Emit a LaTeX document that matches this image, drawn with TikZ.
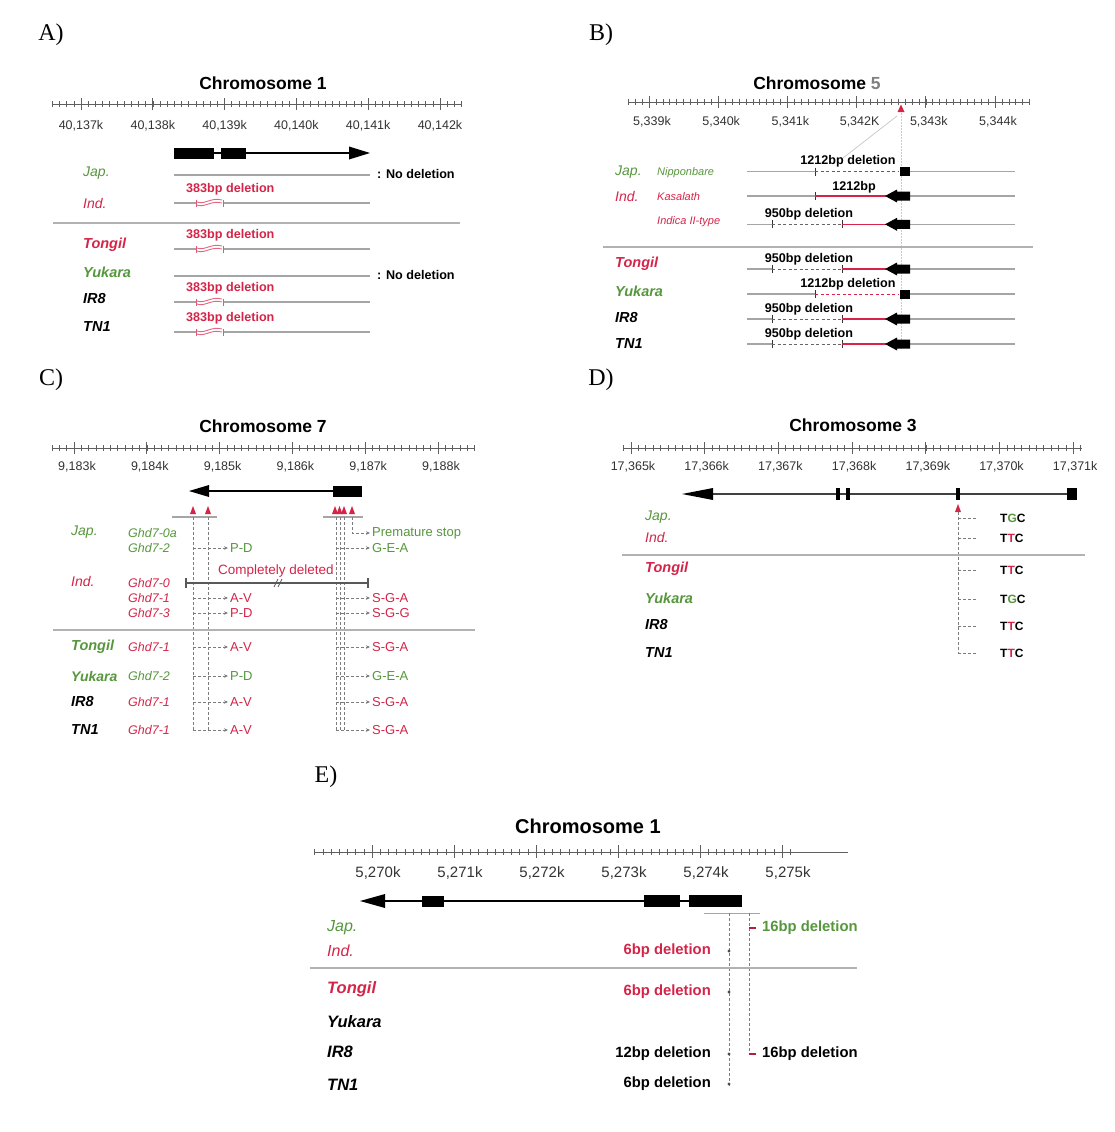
\documentclass[tikz,border=0pt]{standalone}
\usepackage{fontspec}
\setmainfont{Liberation Sans}
\newfontfamily\panelfont{Liberation Serif}
\usepackage{xcolor}
\usepackage{tikz}
\usetikzlibrary{arrows.meta}

\definecolor{jgreen}{RGB}{86,150,60}
\definecolor{ired}{RGB}{212,36,72}
\definecolor{rulegray}{RGB}{95,95,95}
\definecolor{rowgray}{RGB}{165,165,165}
\definecolor{sepgray}{RGB}{178,178,178}
\newcommand{\fsz}[1]{\fontsize{#1}{#1}\selectfont}

\begin{document}
\begin{tikzpicture}[x=1pt, y=-1pt,
    panel/.style={font=\panelfont\fsz{24}, inner sep=0pt},
    title/.style={font=\bfseries\fsz{17.5}, inner sep=0pt},
    ticklab/.style={font=\fsz{12.5}, text=black!80, inner sep=0pt},
    grp/.style={font=\itshape\fsz{14}, anchor=west, inner sep=0pt},
    cult/.style={font=\bfseries\itshape\fsz{14.5}, anchor=west, inner sep=0pt},
    strain/.style={font=\itshape\fsz{12.5}, anchor=west, inner sep=0pt},
    del/.style={font=\bfseries\fsz{12.6}, inner sep=0pt},
    note/.style={font=\fsz{13}, anchor=west, inner sep=0pt},
    rowline/.style={rowgray, line width=1.3},
    sepline/.style={sepgray, line width=2},
    exon/.style={fill=black},
    intron/.style={line width=1.4},
    guide/.style={rowgray!75!black, line width=0.8, dash pattern=on 3pt off 2pt},
    conn/.style={guide, -{Stealth[length=4pt,width=3.5pt]}, shorten >=2pt},
    snp/.style={fill=ired},
    major/.style={rulegray, line width=0.9},
    minor/.style={rulegray, line width=0.6}]

  \useasboundingbox (0,0) rectangle (1115,1132);

  % ================= A) Chromosome 1 =================
  \node[panel] (pA) at (51,35) {A)};
  \node[title] (tA) at (263,83) {Chromosome 1};
  \draw[major] (52,104) -- (461,104);
  \foreach \i in {-4,...,53} \draw[minor] ({81+\i*7.18},101) -- ++(0,6);
  \foreach \m [count=\j from 0] in {137,...,142} {
    \draw[major] ({81+\j*71.8},98) -- ++(0,12);
    \node[ticklab] (a-k\j) at ({81+\j*71.8},126) {40,\m k};
  }
  % gene
  \draw[intron] (214,153) -- (350,153);
  \fill[exon] (174,147.5) rectangle (214,158.5);
  \fill[exon] (221,147.5) rectangle (246,158.5);
  \fill (349,146.5) -- (370,153) -- (349,159.5) -- cycle;
  % rows
  \node[grp, text=jgreen] (a-jap) at (83,173) {Jap.};
  \node[grp, text=ired] (a-ind) at (83,203) {Ind.};
  \node[cult, text=ired] (a-ton) at (83,245) {Tongil};
  \node[cult, text=jgreen] (a-yuk) at (83,272) {Yukara};
  \node[cult] (a-ir8) at (83,299) {IR8};
  \node[cult] (a-tn1) at (83,327) {TN1};
  \draw[sepline] (53,223) -- (460,223);
  \foreach \y [count=\j] in {175,276} {
    \draw[rowline] (174,\y) -- (370,\y);
    \node[del, anchor=west] (a-nd\j) at (377,{\y-1}) {: No deletion};
  }
  \foreach \y [count=\j] in {203,249,302,332} {
    \draw[rowline] (174,\y) -- (196,\y) (223,\y) -- (370,\y);
    \draw[ired!75, line width=1] (196,{\y-3.5}) -- ++(0,7) (223,{\y-3.5}) -- ++(0,7);
    \draw[ired!70, line width=0.9] (197,{\y+2}) .. controls (205,{\y+5}) and (211,{\y-3}) .. (222,{\y})
      (197,{\y-1}) .. controls (205,{\y+2}) and (211,{\y-6}) .. (222,{\y-3});
    \node[del, text=ired, anchor=west] (a-d\j) at (186,{\y-14}) {383bp deletion};
  }

  % ================= B) Chromosome 5 =================
  \node[panel] (pB) at (601,35) {B)};
  \node[title] (tB) at (817,83) {Chromosome \textcolor{black!50}{5}};
  \draw[major] (628,102) -- (1030,102);
  \foreach \i in {-3,...,55} \draw[minor] ({649+\i*6.92},99) -- ++(0,6);
  \foreach \t [count=\j from 0] in {339k,340k,341k,342K,343k,344k} {
    \draw[major] ({649+\j*69.2},96) -- ++(0,12);
    \node[ticklab] (b-k\j) at ({652+\j*69.2},122) {5,\t};
  }
  % position marker
  \draw[gray!40, line width=0.8, dash pattern=on 2pt off 1pt] (901,113) -- (901,350);
  \draw[gray!45, line width=0.7] (897,116) -- (843,158);
  \fill[snp] (897.5,112) -- (901,104.5) -- (904.5,112) -- cycle;
  % rows
  \node[grp, text=jgreen] (b-jap) at (615,172) {Jap.};
  \node[strain, text=jgreen, font=\itshape\fsz{11}] (b-nip) at (657,173) {Nipponbare};
  \node[grp, text=ired] (b-ind) at (615,196) {Ind.};
  \node[strain, text=ired, font=\itshape\fsz{11}] (b-kas) at (657,197) {Kasalath};
  \node[strain, text=ired, font=\itshape\fsz{11}] (b-ii) at (657,222) {Indica II-type};
  \node[cult, text=ired] (b-ton) at (615,264) {Tongil};
  \node[cult, text=jgreen] (b-yuk) at (615,291) {Yukara};
  \node[cult] (b-ir8) at (615,318) {IR8};
  \node[cult] (b-tn1) at (615,344) {TN1};
  \draw[sepline] (603,247) -- (1033,247);
  % 1212bp deletion
  \foreach \y [count=\j] in {171.7,294} {
    \draw[rowline] (747,\y) -- (815,\y) (910,\y) -- (1015,\y);
    \draw[black!80, line width=0.9] (815,{\y-4}) -- ++(0,8);
    \draw[ired, line width=1, dash pattern=on 3pt off 2.5pt] (815,\y) -- (898,\y);
    \fill[exon] (900,{\y-4.5}) rectangle (910,{\y+4.5});
    \node[del] (b-n\j) at (848,{\y-10}) {1212bp deletion};
  }
  % 1212bp
  \draw[rowline] (747,196) -- (815,196) (910,196) -- (1015,196);
  \draw[black!80, line width=0.9] (815,192) -- ++(0,8);
  \draw[ired, line width=1.3] (815,196) -- (886,196);
  \fill (885,196) -- (897,189.5) -- (897,191.5) -- (910,191.5) -- (910,200.5) -- (897,200.5) -- (897,202.5) -- cycle;
  \node[del] (b-k) at (854,187) {1212bp};
  % 950bp deletion
  \foreach \y [count=\j] in {224.3,269,319,344} {
    \draw[rowline] (747,\y) -- (772,\y) (910,\y) -- (1015,\y);
    \draw[black!80, line width=0.9] (772,{\y-4}) -- ++(0,8) (842,{\y-4}) -- ++(0,8);
    \draw[black!60, line width=0.8, dash pattern=on 3pt off 2.5pt] (772,\y) -- (842,\y);
    \draw[ired, line width=1.3] (842,\y) -- (886,\y);
    \fill (885,\y) -- (897,{\y-6.5}) -- (897,{\y-4.5}) -- (910,{\y-4.5}) -- (910,{\y+4.5})
      -- (897,{\y+4.5}) -- (897,{\y+6.5}) -- cycle;
    \node[del] (b-h\j) at (809,{\y-10}) {950bp deletion};
  }

  % ================= C) Chromosome 7 =================
  \node[panel] (pC) at (51,380) {C)};
  \node[title] (tC) at (263,426) {Chromosome 7};
  \draw[major] (52,448) -- (475,448);
  \foreach \i in {-3,...,55} \draw[minor] ({74+\i*7.28},445) -- ++(0,6);
  \foreach \m [count=\j from 0] in {183,...,188} {
    \draw[major] ({74+\j*72.8},442) -- ++(0,12);
    \node[ticklab] (c-k\j) at ({77+\j*72.8},467) {9,\m k};
  }
  % gene
  \draw[intron] (209,491) -- (333,491);
  \fill (189,491) -- (209,485) -- (209,497) -- cycle;
  \fill[exon] (333,485.5) rectangle (362,496.5);
  \foreach \x in {193,208,335,339.5,344,352}
    \fill[snp] ({\x-3},514) -- (\x,506) -- ({\x+3},514) -- cycle;
  \draw[rowline] (172,517) -- (217,517) (323,517) -- (363,517);
  \foreach \x in {193,208,336,340,344} \draw[guide] (\x,517) -- (\x,732);
  % rows
  \node[grp, text=jgreen] (c-jap) at (71,532) {Jap.};
  \node[strain, text=jgreen] (c-0a) at (128,533) {Ghd7-0a};
  \node[strain, text=jgreen] (c-2) at (128,548) {Ghd7-2};
  \node[grp, text=ired] (c-ind) at (71,581) {Ind.};
  \node[strain, text=ired] (c-0) at (128,583) {Ghd7-0};
  \node[strain, text=ired] (c-1) at (128,598) {Ghd7-1};
  \node[strain, text=ired] (c-3) at (128,613) {Ghd7-3};
  \node[cult, text=jgreen] (c-ton) at (71,647) {Tongil};
  \node[strain, text=ired] (c-ton-g) at (128,647) {Ghd7-1};
  \node[cult, text=jgreen, font=\bfseries\itshape\fsz{14}] (c-yuk) at (71,676) {Yukara};
  \node[strain, text=jgreen] (c-yuk-g) at (128,676) {Ghd7-2};
  \node[cult] (c-ir8) at (71,702) {IR8};
  \node[strain, text=ired] (c-ir8-g) at (128,702) {Ghd7-1};
  \node[cult] (c-tn1) at (71,730) {TN1};
  \node[strain, text=ired] (c-tn1-g) at (128,730) {Ghd7-1};
  \draw[sepline] (53,630) -- (475,630);
  % premature stop
  \node[note, text=jgreen] (c-ps) at (372,533) {Premature stop};
  \draw[conn] (352,517) -- (352,533) -- (c-ps.west);
  % amino acid changes
  \foreach \y/\l/\r/\c [count=\j] in {548/P-D/G-E-A/jgreen, 598/A-V/S-G-A/ired, 613/P-D/S-G-G/ired,
      647/A-V/S-G-A/ired, 676/P-D/G-E-A/jgreen, 702/A-V/S-G-A/ired, 730/A-V/S-G-A/ired} {
    \node[note, text=\c] (c-l\j) at (230,\y) {\l};
    \node[note, text=\c] (c-r\j) at (372,\y) {\r};
    \draw[conn] (193,\y) -- (c-l\j.west);
    \draw[conn] (336,\y) -- (c-r\j.west);
  }
  % Ghd7-0
  \node[note, text=ired, anchor=center, font=\fsz{13.5}] (c-cd) at (276,571) {Completely deleted};
  \draw[gray!70!black, line width=1.6, {Bar[width=10pt]}-{Bar[width=10pt]}] (185,583) -- (369,583);
  \draw[gray!70!black, line width=0.8] (274,587) -- (278,579) (278,587) -- (282,579);

  % ================= D) Chromosome 3 =================
  \node[panel] (pD) at (601,380) {D)};
  \node[title] (tD) at (853,425) {Chromosome 3};
  \draw[major] (623,448) -- (1082,448);
  \foreach \i in {-1,...,61} \draw[minor] ({631+\i*7.37},445) -- ++(0,6);
  \foreach \m [count=\j from 0] in {365,...,371} {
    \draw[major] ({631+\j*73.7},442) -- ++(0,12);
    \node[ticklab] (d-k\j) at ({633+\j*73.7},467) {17,\m k};
  }
  % gene
  \draw[intron, black!75] (713,494) -- (1073,494);
  \fill (682,494) -- (713,488) -- (713,500) -- cycle;
  \foreach \x in {838,848,958} \fill[exon] ({\x-2},488) rectangle ({\x+2},500);
  \fill[exon] (1067,488) rectangle (1077,500);
  \fill[snp] (955,512) -- (958,504) -- (961,512) -- cycle;
  \draw[guide] (958,512) -- (958,653);
  % rows
  \node[grp, text=jgreen] (d-jap) at (645,517) {Jap.};
  \node[grp, text=ired] (d-ind) at (645,537) {Ind.};
  \node[cult, text=ired] (d-ton) at (645,569) {Tongil};
  \node[cult, text=jgreen] (d-yuk) at (645,598) {Yukara};
  \node[cult] (d-ir8) at (645,625) {IR8};
  \node[cult] (d-tn1) at (645,653) {TN1};
  \draw[sepline] (622,555) -- (1085,555);
  \foreach \y/\b/\c [count=\j] in {518/G/jgreen, 538/T/ired, 570/T/ired, 599/G/jgreen, 626/T/ired, 653/T/ired} {
    \node[del, anchor=west, font=\bfseries\fsz{12}] (d-s\j) at (1000,\y) {T\textcolor{\c}{\b}C};
    \draw[guide] (958,\y) -- (977,\y);
  }

  % ================= E) Chromosome 1 =================
  \begin{scope}[title/.append style={font=\bfseries\fsz{20}},
      ticklab/.append style={font=\fsz{15}},
      grp/.append style={font=\itshape\fsz{16}},
      cult/.append style={font=\bfseries\itshape\fsz{16.5}},
      del/.append style={font=\bfseries\fsz{14.8}}]
    \node[panel] (pE) at (326,777) {E)};
    \node[title] (tE) at (588,826) {Chromosome 1};
    \draw[major] (315,852) -- (848,852);
    \foreach \i in {-7,...,51} \draw[minor] ({372+\i*8.2},849) -- ++(0,6);
    \foreach \m [count=\j from 0] in {270,...,275} {
      \draw[major] ({372+\j*82},845) -- ++(0,13);
      \node[ticklab] (e-k\j) at ({378+\j*82},873) {5,\m k};
    }
    % gene
    \draw[intron] (385,901) -- (742,901);
    \fill (360,901) -- (385,894) -- (385,908) -- cycle;
    \fill[exon] (422,895.5) rectangle (444,906.5);
    \fill[exon] (644,895) rectangle (680,907);
    \fill[exon] (689,895) rectangle (742,907);
    \draw[rowline, line width=1] (704,913) -- (760,913);
    \draw[guide] (729,913) -- (729,1087);
    \draw[guide] (749,913) -- (749,1054);
    \draw[ired!85!black, line width=1.3] (749,928) -- (756,928) (749,1054) -- (756,1054);
    \foreach \y in {951,992,1054,1084} \fill[black!70] (729,\y) circle (1.6);
    % rows
    \node[grp, text=jgreen] (e-jap) at (327,928) {Jap.};
    \node[grp, text=ired] (e-ind) at (327,951) {Ind.};
    \node[cult, text=ired] (e-ton) at (327,989) {Tongil};
    \node[cult] (e-yuk) at (327,1022) {Yukara};
    \node[cult] (e-ir8) at (327,1052) {IR8};
    \node[cult] (e-tn1) at (327,1085) {TN1};
    \draw[sepline] (310,968) -- (857,968);
    \node[del, anchor=west, text=jgreen] (e-16a) at (762,928) {16bp deletion};
    \node[del, anchor=east, text=ired] (e-6a) at (711,951) {6bp deletion};
    \node[del, anchor=east, text=ired] (e-6b) at (711,992) {6bp deletion};
    \node[del, anchor=east] (e-12) at (711,1054) {12bp deletion};
    \node[del, anchor=west] (e-16b) at (762,1054) {16bp deletion};
    \node[del, anchor=east] (e-6c) at (711,1084) {6bp deletion};
  \end{scope}
\end{tikzpicture}
\end{document}
